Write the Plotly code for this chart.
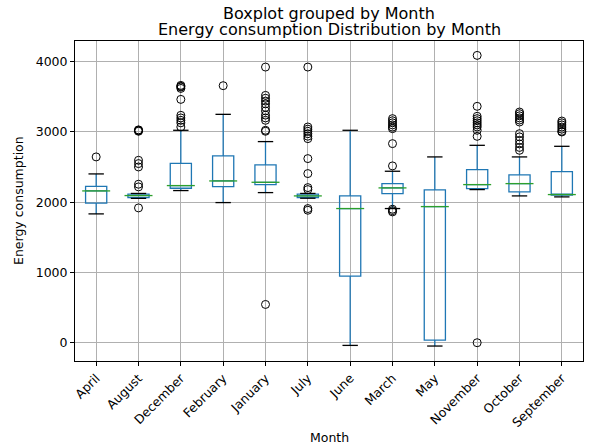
import plotly.graph_objects as go

months = ["April", "August", "December", "February", "January", "July",
          "June", "March", "May", "November", "October", "September"]
q1 = [1986, 2066, 2199, 2223, 2251, 2066, 948, 2123, 38, 2194, 2147, 2100]
medians = [2161, 2095, 2237, 2303, 2284, 2090, 1910, 2204, 1938, 2251, 2265, 2109]
q3 = [2227, 2114, 2554, 2659, 2531, 2114, 2090, 2265, 2175, 2464, 2389, 2436]
lower_whisker = [1834, 2055, 2166, 1995, 2137, 2057, -38, 1910, -47, 2180, 2090, 2076]
upper_whisker = [2403, 2125, 3024, 3251, 2863, 2125, 3024, 2441, 2645, 2810, 2645, 2796]

outliers = {
    "April": [2645],
    "August": [3024, 3030, 3018, 3010, 2597, 2550, 2502, 2256, 2218, 1919],
    "December": [3663, 3650, 3640, 3620, 3464, 3237, 3200, 3166, 3130, 3071],
    "February": [3659],
    "January": [3924, 3521, 3480, 3440, 3400, 3350, 3300, 3240, 3200, 3166, 3024, 3010, 545],
    "July": [3924, 3071, 3040, 3010, 2975, 2940, 2905, 2621, 2408, 2208, 2180, 1910, 1886],
    "June": [],
    "March": [3190, 3160, 3130, 3100, 3070, 3047, 2834, 2517, 1900, 1880, 1862],
    "May": [],
    "November": [4090, 3365, 3223, 3190, 3160, 3130, 3100, 3071, 3024, 2938, 0],
    "October": [3284, 3260, 3230, 3200, 3170, 3142, 2976, 2930, 2880, 2830, 2780, 2739],
    "September": [3156, 3130, 3100, 3070, 3040, 3010, 3000],
}

BLUE = "#1f77b4"
GREEN = "#2ca02c"
FONT = "DejaVu Sans"

fig = go.Figure()

fig.add_trace(go.Box(
    x=months, q1=q1, median=medians, q3=q3,
    lowerfence=lower_whisker, upperfence=upper_whisker,
    width=0.5, whiskerwidth=0,
    line=dict(color=BLUE, width=1.3),
    fillcolor="rgba(0,0,0,0)",
    boxpoints=False, showlegend=False, hoverinfo="skip",
))

# caps
fig.add_trace(go.Scatter(
    x=months + months, y=lower_whisker + upper_whisker, mode="markers",
    marker=dict(symbol="line-ew", size=11, line=dict(color="black", width=1.3)),
    showlegend=False, hoverinfo="skip",
))

# medians
fig.add_trace(go.Scatter(
    x=months, y=medians, mode="markers",
    marker=dict(symbol="line-ew", size=20, line=dict(color=GREEN, width=1.3)),
    showlegend=False, hoverinfo="skip",
))

ox, oy = [], []
for m in months:
    for v in outliers[m]:
        ox.append(m)
        oy.append(v)
fig.add_trace(go.Scatter(
    x=ox, y=oy, mode="markers",
    marker=dict(symbol="circle-open", size=8, color="black", line=dict(color="black", width=1)),
    showlegend=False, hoverinfo="skip",
))

fig.update_layout(
    width=589, height=448,
    margin=dict(l=75, r=6, t=41, b=87, autoexpand=False),
    paper_bgcolor="white", plot_bgcolor="white",
    font=dict(family=FONT, size=12.5, color="black"),
    showlegend=False,
    annotations=[
        dict(text="Boxplot grouped by Month", xref="paper", yref="paper", x=0.5, y=1,
             yshift=28, xanchor="center", yanchor="middle", showarrow=False,
             font=dict(family=FONT, size=16, color="black")),
        dict(text="Energy consumption Distribution by Month", xref="paper", yref="paper",
             x=0.5, y=1, yshift=12, xanchor="center", yanchor="middle", showarrow=False,
             font=dict(family=FONT, size=16, color="black")),
        dict(text="Month", xref="paper", yref="paper", x=0.5, y=0, yshift=-76,
             xanchor="center", yanchor="middle", showarrow=False,
             font=dict(family=FONT, size=12.5, color="black")),
        dict(text="Energy consumption", xref="paper", yref="paper", x=0, y=0.5,
             xshift=-57, textangle=-90, xanchor="center", yanchor="middle", showarrow=False,
             font=dict(family=FONT, size=12.5, color="black")),
    ],
)

fig.update_xaxes(
    type="category", categoryorder="array", categoryarray=months,
    range=[-0.5, 11.5], automargin=False,
    showline=True, mirror=True, linecolor="black", linewidth=1,
    showgrid=True, gridcolor="#b0b0b0", gridwidth=1,
    ticks="outside", ticklen=4, tickcolor="black", tickangle=-45,
)
fig.update_yaxes(
    range=[-260, 4295], automargin=False,
    tickvals=[0, 1000, 2000, 3000, 4000],
    showline=True, mirror=True, linecolor="black", linewidth=1,
    showgrid=True, gridcolor="#b0b0b0", gridwidth=1, zeroline=False,
    ticks="outside", ticklen=4, tickcolor="black",
)

fig.write_html("out.html", config={"displayModeBar": False},
               post_script="document.body.style.margin='0';")
